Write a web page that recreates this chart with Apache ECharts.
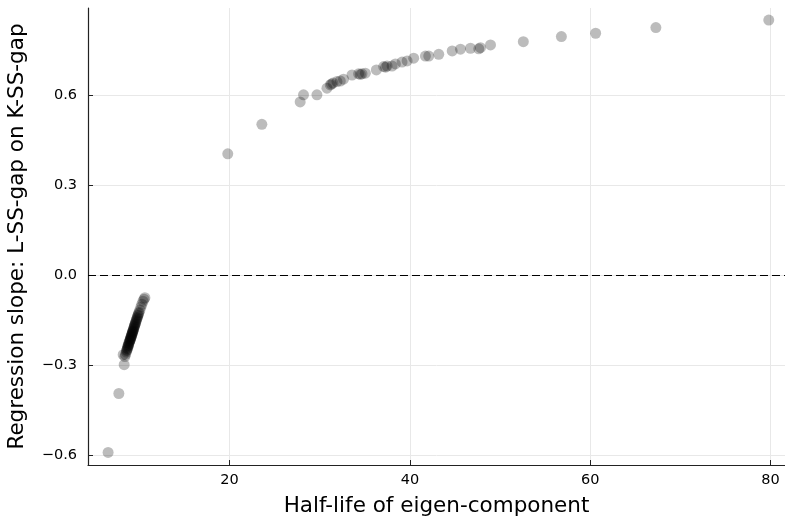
<!DOCTYPE html>
<html>
<head>
<meta charset="utf-8">
<script src="https://cdn.jsdelivr.net/npm/echarts@6/dist/echarts.min.js"></script>
<style>
  html, body { margin: 0; padding: 0; background: #fff; }
  #chart { width: 785px; height: 519px; }
</style>
</head>
<body>
<div id="chart"></div>
<script>
// half-life of each eigen-component and its regression slope
var halfLife = [
  6.53, 7.72, 8.31, 8.20,
  8.39, 8.46, 8.55, 8.62, 8.68, 8.74, 8.80, 8.85, 8.90, 8.95, 9.00, 9.05,
  9.10, 9.15, 9.20, 9.25, 9.30, 9.36, 9.42, 9.48, 9.55, 9.62, 9.70, 9.78,
  9.87, 9.96, 10.06, 10.17, 10.28, 10.40, 10.52, 10.61,
  8.72, 8.83, 8.93, 9.02, 9.08, 9.13, 9.18, 9.23, 9.28, 9.33, 9.39, 9.45,
  9.51, 9.58, 9.66, 9.74, 9.83, 9.92, 8.58, 8.66, 8.78, 8.98,
  19.8, 23.58, 27.83, 28.2, 29.69, 30.8, 31.17, 31.3, 31.47, 31.91, 32.28, 32.64,
  33.58, 34.31, 34.5, 34.69, 35.06, 36.28, 37.09, 37.3, 37.47, 38.02, 38.39, 39.13,
  39.69, 40.42, 41.72, 42.09, 43.2, 44.69, 45.61, 46.72, 47.64, 47.83, 48.94,
  52.58, 56.8, 60.6, 67.28, 79.8
];
var slope = [
  -0.590, -0.394, -0.298, -0.265,
  -0.271, -0.264, -0.256, -0.249, -0.243, -0.238, -0.232, -0.227, -0.222, -0.218, -0.213, -0.208,
  -0.204, -0.199, -0.194, -0.189, -0.185, -0.179, -0.173, -0.167, -0.161, -0.154, -0.147, -0.140,
  -0.132, -0.124, -0.116, -0.106, -0.097, -0.087, -0.080, -0.075,
  -0.236, -0.226, -0.219, -0.211, -0.205, -0.201, -0.196, -0.191, -0.187, -0.182, -0.176, -0.170,
  -0.164, -0.158, -0.150, -0.143, -0.135, -0.127, -0.251, -0.245, -0.234, -0.215,
  0.4035, 0.502, 0.5765, 0.600, 0.600, 0.622, 0.633, 0.636, 0.639, 0.644, 0.646, 0.652,
  0.666, 0.670, 0.668, 0.670, 0.672, 0.683, 0.694, 0.692, 0.696, 0.696, 0.703, 0.709,
  0.713, 0.722, 0.729, 0.729, 0.735, 0.746, 0.752, 0.755, 0.753, 0.757, 0.766,
  0.777, 0.794, 0.805, 0.824, 0.849
];
var xTicks = [20, 40, 60, 80];
var yTicks = [-0.6, -0.3, 0, 0.3, 0.6];

var points = halfLife.map(function (h, i) { return [h, slope[i]]; });

var font = 'DejaVu Sans';
var chart = echarts.init(document.getElementById('chart'), null, { renderer: 'canvas' });

var option = {
  animation: false,
  grid: { left: 88, right: 0, top: 8, bottom: 54, containLabel: false, outerBoundsMode: 'none' },
  xAxis: {
    type: 'value',
    min: 4.3,
    max: 81.6,
    name: 'Half-life of eigen-component',
    nameLocation: 'middle',
    nameGap: 30,
    nameTextStyle: { fontFamily: font, fontSize: 21.5, color: '#000' },
    axisLine: { onZero: false, lineStyle: { color: '#222', width: 1.2 } },
    axisTick: { inside: true, length: 5, customValues: xTicks, lineStyle: { color: '#222' } },
    axisLabel: { customValues: xTicks, margin: 8, fontFamily: font, fontSize: 14.5, color: '#000' },
    splitLine: { show: true, lineStyle: { color: '#e8e8e8', width: 1 } }
  },
  yAxis: {
    type: 'value',
    min: -0.632,
    max: 0.889,
    name: 'Regression slope: L-SS-gap on K-SS-gap',
    nameLocation: 'middle',
    nameGap: 60,
    nameTextStyle: { fontFamily: font, fontSize: 21.5, color: '#000' },
    axisLine: { show: true, onZero: false, lineStyle: { color: '#222', width: 1.2 } },
    axisTick: { show: true, inside: true, length: 5, customValues: yTicks, lineStyle: { color: '#222' } },
    axisLabel: {
      customValues: yTicks,
      margin: 11,
      fontFamily: font,
      fontSize: 14.5,
      color: '#000',
      formatter: function (v) { return v.toFixed(1).replace('-', '\u2212'); }
    },
    splitLine: { show: true, lineStyle: { color: '#e8e8e8', width: 1 } }
  },
  series: [{
    type: 'scatter',
    data: points,
    symbol: 'circle',
    symbolSize: 11,
    itemStyle: { color: 'rgba(0,0,0,0.33)', borderWidth: 0 },
    emphasis: { disabled: true },
    markLine: {
      silent: true,
      symbol: ['none', 'none'],
      label: { show: false },
      lineStyle: { color: '#000', width: 1.2, type: [8, 4] },
      data: [{ yAxis: 0 }]
    }
  }]
};

chart.setOption(option);
</script>
</body>
</html>
